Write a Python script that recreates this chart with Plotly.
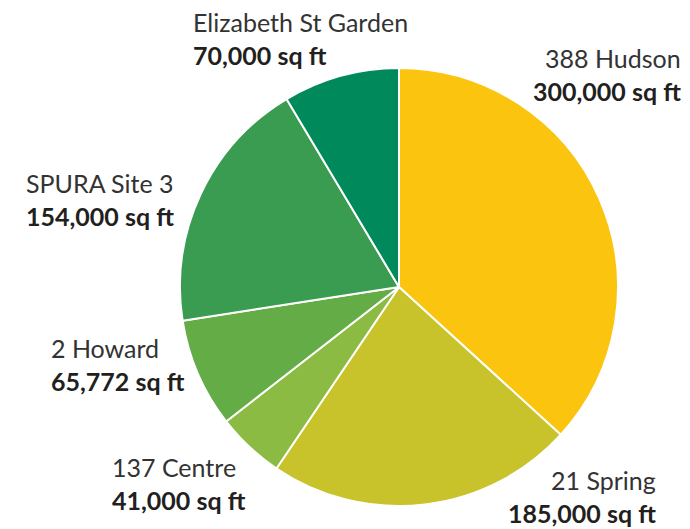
import plotly.graph_objects as go

names = ["388 Hudson", "21 Spring", "137 Centre", "2 Howard", "SPURA Site 3", "Elizabeth St Garden"]
areas = [300000, 185000, 41000, 65772, 154000, 70000]
colors = ["#FBC40F", "#C8C22B", "#8CBB43", "#64AD46", "#3A9C50", "#008A5C"]

# label anchor positions in pixels (x, y of first line centre), alignment
label_pos = {
    "388 Hudson": (683, 58, "right"),
    "21 Spring": (658, 480, "right"),
    "137 Centre": (110, 467, "left"),
    "2 Howard": (49, 348, "left"),
    "SPURA Site 3": (24, 183, "left"),
    "Elizabeth St Garden": (191, 22, "left"),
}

W, H = 690, 529
cx, cy, r = 399, 287, 219

fig = go.Figure(go.Pie(
    labels=names, values=areas, sort=False, direction="clockwise", rotation=0,
    marker=dict(colors=colors, line=dict(color="white", width=2)),
    textinfo="none", hoverinfo="label+value", showlegend=False,
    domain=dict(x=[(cx - r) / W, (cx + r) / W], y=[1 - (cy + r) / H, 1 - (cy - r) / H]),
))

font_family = "Lato, Open Sans, sans-serif"
ann = []
for n, v in zip(names, areas):
    x, y, al = label_pos[n]
    ann.append(dict(x=x / W, y=1 - y / H, xref="paper", yref="paper", text=n,
                    showarrow=False, xanchor=al, yanchor="middle",
                    font=dict(family=font_family, size=25, color="#333333")))
    ann.append(dict(x=x / W, y=1 - (y + 33) / H, xref="paper", yref="paper",
                    text="<b>{:,} sq ft</b>".format(v),
                    showarrow=False, xanchor=al, yanchor="middle",
                    font=dict(family=font_family, size=25, color="#231f20")))

fig.update_layout(width=W, height=H, margin=dict(l=0, r=0, t=0, b=0),
                  paper_bgcolor="white", plot_bgcolor="white", annotations=ann)
fig.write_html("out.html")
